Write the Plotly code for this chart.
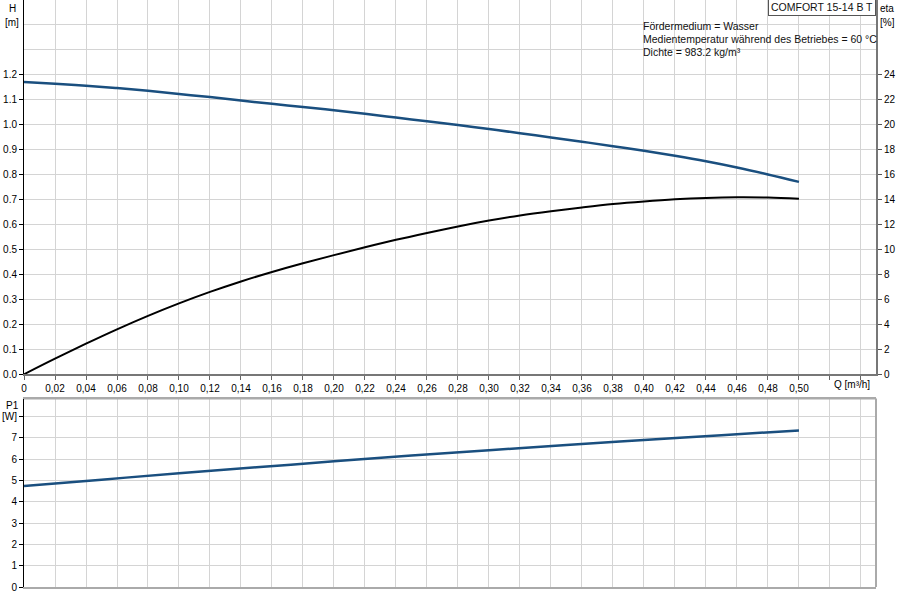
import plotly.graph_objects as go

# ---- data ----
q = [0.00, 0.02, 0.04, 0.06, 0.08, 0.10, 0.12, 0.14, 0.16, 0.18, 0.20, 0.22, 0.24,
     0.26, 0.28, 0.30, 0.32, 0.34, 0.36, 0.38, 0.40, 0.42, 0.44, 0.46, 0.48, 0.50]
head_m = [1.171, 1.164, 1.156, 1.147, 1.136, 1.123, 1.111, 1.097, 1.084, 1.071, 1.058,
          1.044, 1.029, 1.014, 0.999, 0.983, 0.966, 0.949, 0.932, 0.914, 0.896, 0.876,
          0.854, 0.829, 0.801, 0.771]
eta_pct = [0.0, 1.25, 2.45, 3.6, 4.68, 5.68, 6.6, 7.44, 8.2, 8.9, 9.55, 10.18, 10.78,
           11.33, 11.85, 12.32, 12.73, 13.07, 13.37, 13.64, 13.85, 14.02, 14.13, 14.18,
           14.16, 14.07]
q_p = [0.00, 0.05, 0.10, 0.15, 0.20, 0.25, 0.30, 0.35, 0.40, 0.45, 0.50]
p1_w = [4.74, 5.04, 5.34, 5.62, 5.90, 6.17, 6.42, 6.67, 6.90, 7.13, 7.35]

x_ticks = [i * 0.02 for i in range(26)]
x_ticktext = [("0" if i == 0 else f"{i*0.02:.2f}".replace(".", ",")) for i in range(26)]
h_ticks = [i / 10 for i in range(13)]
h_ticktext = [f"{v:.1f}" for v in h_ticks]
eta_ticks = list(range(0, 25, 2))
p_ticks = list(range(0, 9))
p_ticktext = [str(v) for v in range(8)] + ["[W]"]

info_lines = ["Fördermedium = Wasser",
              "Medientemperatur während des Betriebes = 60 °C",
              "Dichte = 983.2 kg/m³"]
title_box = "COMFORT 15-14 B T"

BLUE = "#1a4f7f"
GRID = "#d4d4d4"
FONT = "Liberation Sans, Arial, sans-serif"

fig = go.Figure()
fig.add_trace(go.Scatter(x=q, y=head_m, mode="lines", line=dict(color=BLUE, width=2.5, shape="spline"),
                         xaxis="x", yaxis="y", showlegend=False))
fig.add_trace(go.Scatter(x=q, y=eta_pct, mode="lines", line=dict(color="black", width=2, shape="spline"),
                         xaxis="x", yaxis="y3", showlegend=False))
fig.add_trace(go.Scatter(x=q_p, y=p1_w, mode="lines", line=dict(color=BLUE, width=2.5, shape="spline"),
                         xaxis="x2", yaxis="y2", showlegend=False))

xr = [0, 0.5497]
font = dict(family=FONT, size=10, color="black")
fig.update_layout(
    width=900, height=600,
    margin=dict(l=24, r=24, t=0, b=13),
    paper_bgcolor="white", plot_bgcolor="white",
    font=font,
    xaxis=dict(domain=[0, 1], range=xr, anchor="y", tickvals=x_ticks, ticktext=x_ticktext,
               ticks="outside", ticklen=4, tickcolor="#666", showgrid=False,
               minor=dict(dtick=0.02, tick0=0, showgrid=True, gridcolor=GRID, gridwidth=1, ticks="outside", ticklen=4, tickcolor="#666"),
               showline=True, linecolor="#777", linewidth=2, zeroline=False, tickfont=font),
    yaxis=dict(domain=[0.3624, 1], range=[0, 1.5], anchor="x", tickvals=h_ticks, ticktext=h_ticktext,
               ticks="outside", ticklen=4, tickcolor="black", showgrid=False,
               minor=dict(dtick=0.1, tick0=0, showgrid=True, gridcolor=GRID, gridwidth=1),
               showline=True, linecolor="black", linewidth=1, zeroline=False, tickfont=font),
    yaxis3=dict(range=[0, 30], overlaying="y", side="right", anchor="x", tickvals=eta_ticks,
                ticks="outside", ticklen=4, tickcolor="#555", showgrid=False,
                showline=True, linecolor="#777", linewidth=2, zeroline=False, tickfont=font),
    xaxis2=dict(domain=[0, 1], range=xr, anchor="y2", showticklabels=False, ticks="",
                dtick=0.02, tick0=0, showgrid=True, gridcolor=GRID, gridwidth=1,
                showline=True, linecolor="#aaa", linewidth=2, mirror=True, zeroline=False),
    yaxis2=dict(domain=[0, 0.3211], range=[0, 8.85], anchor="x2", tickvals=p_ticks, ticktext=p_ticktext,
                ticks="outside", ticklen=4, tickcolor="black", showgrid=True, gridcolor=GRID,
                showline=True, linecolor="black", linewidth=1, zeroline=False, tickfont=font),
)

fig.add_shape(type="line", xref="x2 domain", yref="y2 domain", x0=1, x1=1, y0=0, y1=1,
              line=dict(color="#aaa", width=2))
fig.add_shape(type="line", xref="x2 domain", yref="y2 domain", x0=0, x1=1, y0=1, y1=1,
              line=dict(color="#aaa", width=2))

ann = [("H", 12, 8), ("[m]", 12, 22), ("eta", 887, 8), ("[%]", 887, 22),
       ("P1", 12, 405), ("Q [m³/h]", 852, 384)]

def px_to_paper(px, py):
    return (px - 24) / 852, 1 - py / 587

for text, ax, ay in ann:
    px, py = px_to_paper(ax, ay)
    fig.add_annotation(text=text, x=px, y=py, xref="paper", yref="paper", showarrow=False,
                       xanchor="center", yanchor="middle", font=dict(family=FONT, size=10, color="black"))

for i, line in enumerate(info_lines):
    px, py = px_to_paper(641, 26 + 13 * i)
    fig.add_annotation(text=line, x=px, y=py, xref="paper", yref="paper", showarrow=False,
                       xanchor="left", yanchor="middle", font=dict(family=FONT, size=10.5, color="#111"))

px, py = px_to_paper(822, 7)
fig.add_annotation(text=title_box, x=px, y=py, xref="paper", yref="paper", showarrow=False,
                   xanchor="center", yanchor="middle", bordercolor="#555", borderwidth=1,
                   borderpad=2, bgcolor="white", font=dict(family=FONT, size=10.5, color="#111"))

fig.write_html("out.html")
